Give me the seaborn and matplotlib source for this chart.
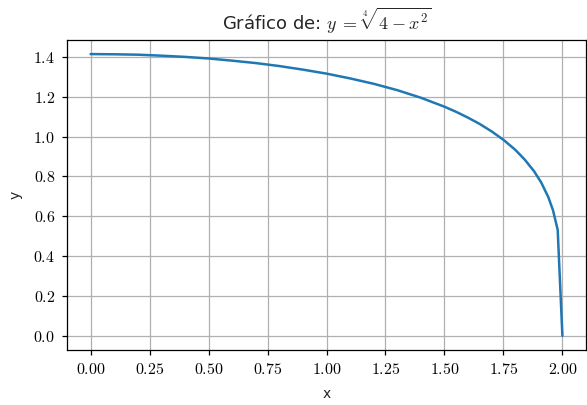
import pandas as pd
import seaborn as sns
import matplotlib
import matplotlib.pyplot as plt
from matplotlib.ticker import FuncFormatter

matplotlib.use("Agg")

# puntos
x_vals = [0.00, 0.10, 0.20, 0.30, 0.40, 0.50, 0.60, 0.70, 0.80, 0.90,
          1.00, 1.10, 1.20, 1.30, 1.40, 1.50, 1.55, 1.60, 1.65, 1.70,
          1.75, 1.80, 1.84, 1.88, 1.91, 1.94, 1.96, 1.98, 2.00]
y_vals = [1.414, 1.413, 1.411, 1.406, 1.400, 1.392, 1.381, 1.369, 1.354, 1.336,
          1.316, 1.292, 1.265, 1.233, 1.195, 1.150, 1.124, 1.095, 1.063, 1.026,
          0.984, 0.934, 0.885, 0.826, 0.770, 0.697, 0.631, 0.532, 0.000]

df = pd.DataFrame({"x": x_vals, "y": y_vals})

sns.set_style("ticks")
plt.rcParams["font.family"] = ["DejaVu Sans"]
plt.rcParams["mathtext.fontset"] = "cm"

fig, ax = plt.subplots(figsize=(5.87, 4.05), dpi=100)
fig.subplots_adjust(left=67 / 587, right=586 / 587, top=1 - 40 / 405, bottom=1 - 350 / 405)
sns.lineplot(data=df, x="x", y="y", color="#1f77b4", linewidth=1.8, ax=ax)

ax.grid(True, color="#b0b0b0", linewidth=0.9)
for s in ax.spines.values():
    s.set_color("black")
    s.set_linewidth(0.9)
ax.tick_params(colors="black", direction="out", length=3.5, width=0.9, labelsize=11.5, pad=5)
ax.xaxis.set_major_formatter(FuncFormatter(lambda v, p: f"${v:.2f}$"))
ax.yaxis.set_major_formatter(FuncFormatter(lambda v, p: f"${v:.1f}$"))

ax.set_title(r"Gráfico de: $y\:=\:\sqrt[4]{4\:-\:x^2}$", fontsize=13, pad=7)
ax.set_xlabel("x", fontsize=10, labelpad=7)
ax.set_ylabel("y", fontsize=10, labelpad=8)

plt.savefig("out.png", dpi=100)
